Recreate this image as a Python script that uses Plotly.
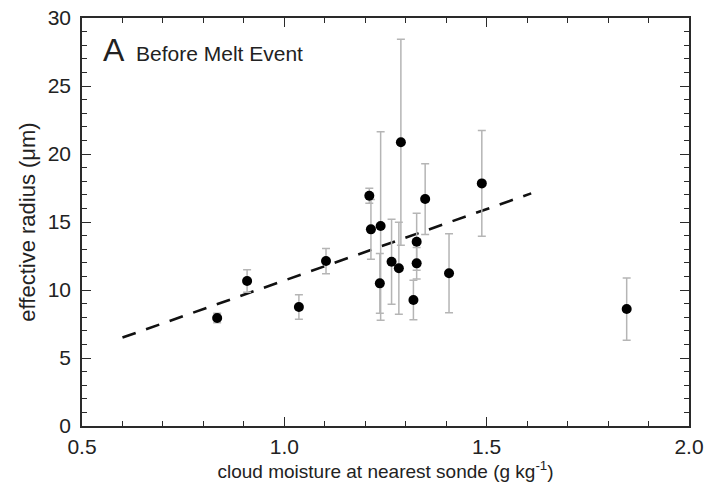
import plotly.graph_objects as go

# data
moisture = [0.834, 0.908, 1.036, 1.103, 1.210, 1.214, 1.238, 1.236, 1.288,
            1.265, 1.283, 1.348, 1.327, 1.327, 1.319, 1.407, 1.488, 1.846]
radius = [7.94, 10.66, 8.75, 12.13, 16.93, 14.46, 14.70, 10.49, 20.86,
          12.08, 11.60, 16.69, 13.55, 11.96, 9.26, 11.23, 17.84, 8.60]
radius_err = [0.35, 0.82, 0.90, 0.93, 0.55, 2.20, 6.93, 2.20, 7.57,
              3.12, 3.38, 2.60, 2.09, 1.16, 1.45, 2.90, 3.88, 2.29]

fit_slope = 10.5
fit_intercept = 0.2
fit_x = [0.6, 1.61]
fit_y = [fit_intercept + fit_slope * v for v in fit_x]

x_ticks = [0.5, 1.0, 1.5, 2.0]
x_ticklabels = ["0.5", "1.0", "1.5", "2.0"]
y_ticks = [0, 5, 10, 15, 20, 25, 30]

FONT = "Liberation Sans, Arial, sans-serif"
AX = "#2a2a2a"

fig = go.Figure()
fig.add_trace(go.Scatter(
    x=fit_x, y=fit_y, mode="lines",
    line=dict(color="#111111", width=2.6, dash="14px,11px"),
    showlegend=False, hoverinfo="skip"))
fig.add_trace(go.Scatter(
    x=moisture, y=radius, mode="markers",
    marker=dict(color="black", size=10),
    error_y=dict(type="data", array=radius_err, visible=True,
                 color="#b5b5b5", thickness=1.5, width=4),
    showlegend=False))

axis_common = dict(
    showline=True, linecolor=AX, linewidth=1.6, mirror="allticks",
    ticks="inside", ticklen=9, tickwidth=1.4, tickcolor=AX,
    showgrid=False, zeroline=False, automargin=False,
    tickfont=dict(family=FONT, size=21, color="#222222"),
)

fig.update_xaxes(
    range=[0.5, 2.0], tickvals=x_ticks, ticktext=x_ticklabels,
    minor=dict(dtick=0.1, tick0=0.5, ticks="inside", ticklen=5,
               tickwidth=1.2, tickcolor=AX, showgrid=False),
    ticklabelstandoff=1,
    title=dict(text="cloud moisture at nearest sonde (g kg<sup>-1</sup>)",
               font=dict(family=FONT, size=19, color="#222222"), standoff=3),
    **axis_common)
fig.update_yaxes(
    range=[0, 30], tickvals=y_ticks,
    minor=dict(dtick=1, tick0=0, ticks="inside", ticklen=5,
               tickwidth=1.2, tickcolor=AX, showgrid=False),
    ticklabelstandoff=5,
    title=dict(text="effective radius (\u03bcm)",
               font=dict(family=FONT, size=22, color="#222222"), standoff=6),
    **axis_common)

fig.add_annotation(
    xref="paper", yref="paper", x=0.031, y=0.922, xanchor="left", yanchor="middle",
    text="A", showarrow=False,
    font=dict(family=FONT, size=32, color="#222222"))
fig.add_annotation(
    xref="paper", yref="paper", x=0.0857, y=0.913, xanchor="left", yanchor="middle",
    text="Before Melt Event", showarrow=False,
    font=dict(family=FONT, size=21, color="#222222"))

fig.update_layout(
    width=707, height=489,
    margin=dict(l=82, r=18, t=18, b=63),
    plot_bgcolor="white", paper_bgcolor="white",
)

fig.write_html("out.html")
